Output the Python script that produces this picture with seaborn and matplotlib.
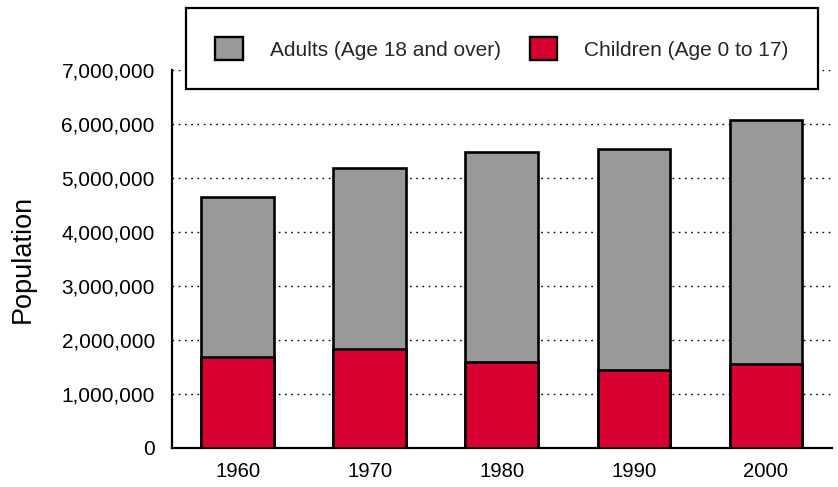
import matplotlib
matplotlib.use("Agg")
import matplotlib.pyplot as plt
from matplotlib.patches import Patch
from matplotlib.ticker import FuncFormatter
import seaborn as sns
import pandas as pd

years = ["1960", "1970", "1980", "1990", "2000"]
children = [1680000, 1830000, 1600000, 1440000, 1560000]
adults = [2975000, 3350000, 3880000, 4100000, 4510000]
series_labels = ["Adults (Age 18 and over)", "Children (Age 0 to 17)"]
y_ticks = [0, 1000000, 2000000, 3000000, 4000000, 5000000, 6000000, 7000000]

GRAY = "#999999"
RED = "#D90032"

sns.set_theme(style="white")
plt.rcParams["font.family"] = ["Liberation Sans", "DejaVu Sans"]

df = pd.DataFrame({"year": years, "children": children, "adults": adults})
df["total"] = df["children"] + df["adults"]

fig = plt.figure(figsize=(8.38, 4.87), dpi=100)
ax = fig.add_axes([0.2047, 0.0801, 0.7882, 0.7762])

sns.barplot(data=df, x="year", y="total", color=GRAY, saturation=1,
            width=0.55, edgecolor="black", linewidth=1.9, ax=ax, zorder=3)
sns.barplot(data=df, x="year", y="children", color=RED, saturation=1,
            width=0.55, edgecolor="black", linewidth=1.9, ax=ax, zorder=4)

ax.set_xlim(-0.5, 4.5)
ax.set_ylim(0, 7000000)
ax.set_yticks(y_ticks)
ax.yaxis.set_major_formatter(FuncFormatter(lambda v, p: f"{int(v):,}"))
ax.set_xlabel("")
ax.set_ylabel("")
ax.tick_params(axis="both", length=0, colors="black")
ax.tick_params(axis="y", pad=12, labelsize=15)
ax.tick_params(axis="x", pad=10, labelsize=14.6)

ax.grid(axis="y", color="black", linestyle=(0, (1.2, 3.3)), linewidth=1.0)
ax.set_axisbelow(True)

for s in ["top", "right"]:
    ax.spines[s].set_visible(False)
for s in ["left", "bottom"]:
    ax.spines[s].set_color("black")
    ax.spines[s].set_linewidth(1.6)

fig.text(0.027, 0.469, "Population", rotation=90, ha="center", va="center",
         fontsize=19.5, color="black")

handles = [Patch(facecolor=GRAY, edgecolor="black", linewidth=1.7),
           Patch(facecolor=RED, edgecolor="black", linewidth=1.7)]
leg = fig.legend(handles, series_labels, loc="center",
                 bbox_to_anchor=(0.5987, 0.9001), ncol=2, fontsize=15,
                 frameon=True, fancybox=False, framealpha=1,
                 borderpad=1.4, handlelength=1.34, handleheight=1.34,
                 handletextpad=1.28, columnspacing=1.39)
leg.get_frame().set_edgecolor("black")
leg.get_frame().set_linewidth(1.6)

fig.savefig("out.png", dpi=100)
